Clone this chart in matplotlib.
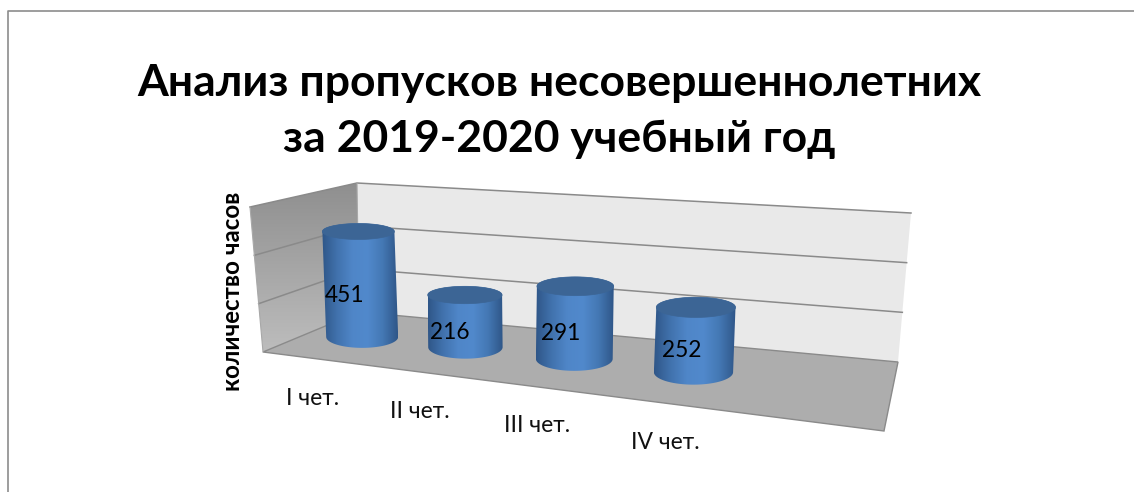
import numpy as np
import matplotlib
matplotlib.use("Agg")
import matplotlib.pyplot as plt
from matplotlib.patches import Polygon

title = "Анализ пропусков несовершеннолетних\nза 2019-2020 учебный год"
ylabel = "количество часов"
categories = ["I чет.", "II чет.", "III чет.", "IV чет."]
hours = [451, 216, 291, 252]
grid_values = [200, 400, 600]
n_slots = 5  # the source chart keeps an empty fifth slot on the right
y_max = 600

# small per-category pixel nudges, the source perspective is not quite regular
bar_nudge = [-11, -3, -2, -6]
label_nudge = [-1, 6, 8, 4]

plt.rcParams["font.family"] = ["Lato", "Open Sans", "DejaVu Sans"]

# Corners of the 3D box in pixels
FL = (263, 352)
FR = (884, 431)
BR = (898, 362)
BL = (359, 312)
# Pixel offset of a full-height (y_max) edge at each corner
UP_FL = (-13, -145)
UP_FR = (8, -172)
UP_BR = (13, -149)
UP_BL = (-2, -129)


def homography(quad):
    src = [(0, 0), (1, 0), (1, 1), (0, 1)]
    rows, rhs = [], []
    for (u, v), (x, y) in zip(src, quad):
        rows.append([u, v, 1, 0, 0, 0, -u * x, -v * x])
        rows.append([0, 0, 0, u, v, 1, -u * y, -v * y])
        rhs += [x, y]
    return np.append(np.linalg.solve(rows, rhs), 1).reshape(3, 3)


H = homography([FL, FR, BR, BL])


def floor(u, v):
    p = H @ np.array([u, v, 1.0])
    return p[:2] / p[2]


def up(u, v):
    a = (1 - u) * np.array(UP_FL) + u * np.array(UP_FR)
    b = (1 - u) * np.array(UP_BL) + u * np.array(UP_BR)
    return (1 - v) * a + v * b


def point(u, v, h):
    return floor(u, v) + up(u, v) * h / y_max


def gradient(ax, clip, extent, colors, horizontal=False, zorder=1):
    cmap = matplotlib.colors.LinearSegmentedColormap.from_list("g", colors)
    g = np.linspace(0, 1, 256)
    g = g.reshape(1, -1) if horizontal else g.reshape(-1, 1)
    im = ax.imshow(g, cmap=cmap, extent=extent, aspect="auto", zorder=zorder,
                   interpolation="bilinear")
    im.set_clip_path(clip)


fig = plt.figure(figsize=(11.34, 4.92), dpi=100)
ax = fig.add_axes([0, 0, 1, 1])

# Outer chart border, the right side is cut off in the source
ax.plot([7.5, 7.5, 1134], [492, 10.5, 10.5], color="#8c8c8c", lw=1.2, zorder=1)

# Back wall, side wall, floor
back = [point(0, 1, 0), point(1, 1, 0), point(1, 1, y_max), point(0, 1, y_max)]
side = [point(0, 0, 0), point(0, 1, 0), point(0, 1, y_max), point(0, 0, y_max)]
flr = [point(0, 0, 0), point(1, 0, 0), point(1, 1, 0), point(0, 1, 0)]

ax.add_patch(Polygon(back, closed=True, fc="#e9e9e9", ec="none", zorder=1))
side_patch = Polygon(side, closed=True, fc="none", ec="none", zorder=1)
ax.add_patch(side_patch)
gradient(ax, side_patch, (250, 360, 353, 183), ["#8f8f8f", "#bdbdbd"])
ax.add_patch(Polygon(flr, closed=True, fc="#adadad", ec="#8a8a8a", lw=1.0, zorder=2))

for val in grid_values:
    a, b, c = point(0, 0, val), point(0, 1, val), point(1, 1, val)
    ax.plot([a[0], b[0], c[0]], [a[1], b[1], c[1]], color="#8a8a8a", lw=1.1, zorder=2)
for a, b in [(point(0, 0, 0), point(0, 0, y_max)), (point(0, 1, 0), point(0, 1, y_max))]:
    ax.plot([a[0], b[0]], [a[1], b[1]], color="#a8a8a8", lw=0.8, zorder=2)

# Cylinders
v_mid = 0.5
slot_shift = 0.68
t = np.linspace(0, np.pi, 60)
for i, val in enumerate(hours):
    u = (i + slot_shift) / n_slots
    z = 3 + i * 0.1
    shift = np.array([bar_nudge[i], 0])
    base = point(u, v_mid, 0) + shift
    top = point(u, v_mid, val) + shift
    rx = 36 + 1.2 * i
    ry_base = 11 + 0.5 * i
    ry_top = 8 + 0.7 * i
    lower = np.column_stack([base[0] + rx * np.cos(t), base[1] + ry_base * np.sin(t)])
    upper = np.column_stack([top[0] - rx * np.cos(t), top[1] - ry_top * np.sin(t)])
    body = Polygon(np.vstack([lower, upper]), closed=True, fc="none", ec="none", zorder=z)
    ax.add_patch(body)
    left = min(base[0], top[0]) - rx
    right = max(base[0], top[0]) + rx
    gradient(ax, body, (left, right, base[1] + 20, top[1] - 20),
             ["#2f5688", "#4172ad", "#4f86c8", "#5189cc", "#4478b4", "#2f5688"],
             horizontal=True, zorder=z)
    tt = np.linspace(0, 2 * np.pi, 80)
    cap = np.column_stack([top[0] + rx * np.cos(tt), top[1] + ry_top * np.sin(tt)])
    ax.add_patch(Polygon(cap, closed=True, fc="#3c6595", ec="#3c6595", lw=0.5, zorder=z + 0.01))
    mid = (base + top) / 2
    ax.text(mid[0] - 16 + i, mid[1] + 11, str(val), ha="center", va="center",
            fontsize=16.3, color="black", zorder=6)

# Category labels along the front edge of the floor
for i, name in enumerate(categories):
    p = point((i + slot_shift) / n_slots, 0, 0)
    ax.text(p[0] - 11 + label_nudge[i], p[1] + 38.5, name, ha="center", va="center",
            fontsize=16.5, color="#111111", zorder=6)

ax.text(232, 291, ylabel, rotation=90, ha="center", va="center",
        fontsize=17.4, fontweight="bold", color="black", zorder=6)
ax.text(559, 111, title, ha="center", va="center", fontsize=32, fontweight="bold",
        color="black", linespacing=1.47, zorder=6)

ax.set_xlim(0, 1134)
ax.set_ylim(492, 0)
ax.axis("off")
fig.savefig("out.png", dpi=100, facecolor="white")
plt.close(fig)
